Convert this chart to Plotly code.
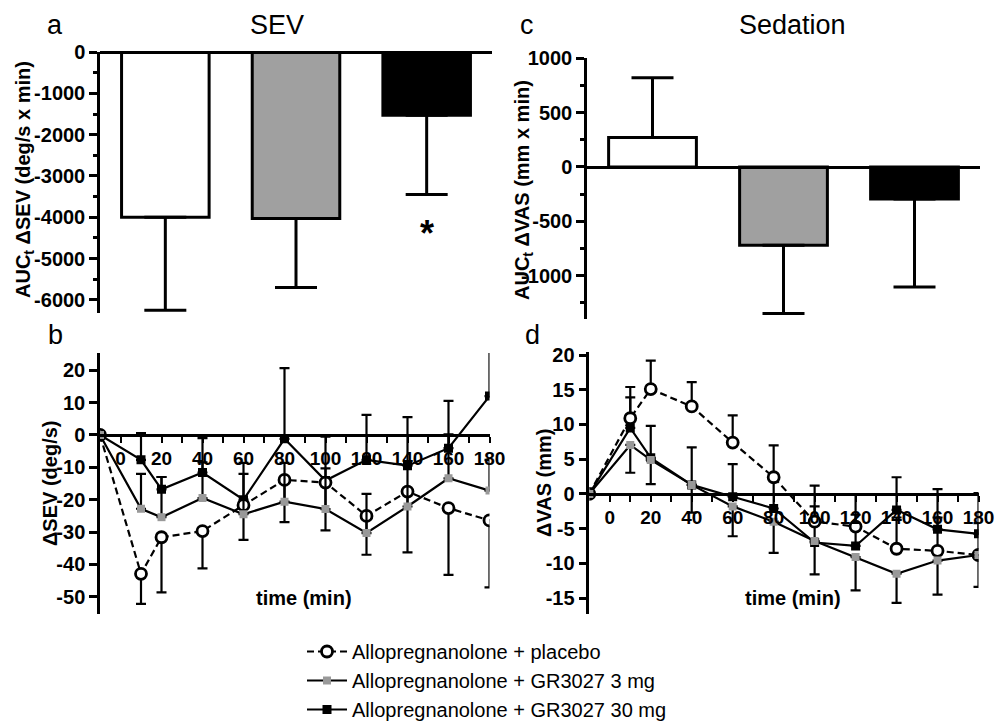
import plotly.graph_objects as go

W, H = 1007, 722
OFF = 8  # page body margin in the browser

# ---------------- data ----------------
groups = ["Allopregnanolone + placebo",
          "Allopregnanolone + GR3027 3 mg",
          "Allopregnanolone + GR3027 30 mg"]
bar_pos = [0, 1, 2]
bar_colors = ["white", "#a0a0a0", "black"]

sev_auc = [-4000, -4030, -1530]
sev_auc_err = [2250, 1670, 1920]
vas_auc = [270, -720, -295]
vas_auc_err = [550, 630, 810]

time = [-10, 10, 20, 40, 60, 80, 100, 120, 140, 160, 180]

sev_placebo = [0, -42.9, -31.6, -29.7, -21.7, -13.9, -14.7, -25.0, -17.5, -22.6, -26.4]
sev_placebo_err = [0, 9.3, 17.0, 11.5, 10.7, 13.0, 14.8, 12.0, 18.8, 20.6, 20.7]
sev_3mg = [0, -22.8, -25.4, -19.5, -24.5, -20.6, -22.9, -30.3, -22.1, -13.4, -17.2]
sev_3mg_err = [0, 10.8, 12.4, 11.0, 12.5, 12.0, 12.6, 12.1, 13.0, 13.6, 9.5]
sev_30mg = [0, -7.7, -16.8, -11.6, -20.0, -1.2, -14.1, -7.7, -9.5, -4.1, 12.0]
sev_30mg_err = [0, 8.3, 3.8, 10.6, 11.4, 21.8, 13.6, 13.9, 15.0, 14.6, 16.0]

vas_placebo = [0, 10.9, 15.1, 12.6, 7.4, 2.4, -4.0, -4.7, -7.9, -8.2, -8.8]
vas_placebo_err = [0, 4.5, 4.1, 3.5, 3.9, 4.6, 5.2, 4.6, 4.5, 4.8, 4.6]
vas_3mg = [0, 7.05, 4.9, 1.3, -1.8, -4.0, -6.8, -9.1, -11.5, -9.6, -8.8]
vas_3mg_err = [0, 4.0, 3.5, 4.0, 4.3, 4.5, 4.8, 4.8, 4.2, 4.9, 4.6]
vas_30mg = [0, 9.5, 5.2, 1.3, -0.4, -2.1, -7.0, -7.5, -2.3, -5.1, -5.75]
vas_30mg_err = [0, 4.4, 4.6, 5.4, 4.7, 4.5, 5.2, 4.5, 4.7, 5.8, 5.85]

x_ticks = [0, 20, 40, 60, 80, 100, 120, 140, 160, 180]
x_minor_ticks = [10, 30, 50, 70, 90, 110, 130, 150, 170]

sev_auc_ticks = [0, -1000, -2000, -3000, -4000, -5000, -6000]
vas_auc_ticks = [1000, 500, 0, -500, -1000]
sev_ticks = [20, 10, 0, -10, -20, -30, -40, -50]
vas_ticks = [20, 15, 10, 5, 0, -5, -10, -15]

# ---------------- helpers ----------------
def px(p):
    return (p - OFF) / W

def py(p):
    return 1 - (p - OFF) / H

def labels(vals):
    return [str(v) for v in vals]  # plain hyphen-minus like the original

FONT = "Liberation Sans, Arial, sans-serif"
YTICK = dict(family=FONT, size=20, color="black", weight=700)
XTICK = dict(family=FONT, size=19, color="black", weight=700)
LW = 2.5

def zero_pos(dom, rng):
    f = (0 - rng[0]) / (rng[1] - rng[0])
    return dom[0] + f * (dom[1] - dom[0])

# domains / ranges
xa_dom = [px(100), px(492)];     ya_dom = [py(313), py(52)];    ya_rng = [-6315, 0]
xc_dom = [px(587), px(980)];     yc_dom = [py(319), py(58.3)];  yc_rng = [-1400, 1000]
xb_dom = [px(100), px(489.5)];   yb_dom = [py(614), py(353)];   yb_rng = [-55.3, 25.3]
xd_dom = [px(589.3), px(978.5)]; yd_dom = [py(614), py(352.3)]; yd_rng = [-17.3, 20.4]

fig = go.Figure()

# ---------------- bar panels ----------------
def bar_trace(vals, errs, xa, ya):
    up = [e if v > 0 else 0 for v, e in zip(vals, errs)]
    dn = [e if v < 0 else 0 for v, e in zip(vals, errs)]
    return go.Bar(
        x=bar_pos, y=vals, width=0.67,
        marker=dict(color=bar_colors, line=dict(color="black", width=3)),
        error_y=dict(type="data", symmetric=False, array=up, arrayminus=dn,
                     color="black", thickness=3, width=21),
        xaxis=xa, yaxis=ya, showlegend=False, hoverinfo="skip",
    )

fig.add_trace(bar_trace(sev_auc, sev_auc_err, "x", "y"))
fig.add_trace(bar_trace(vas_auc, vas_auc_err, "x2", "y2"))

# ---------------- line panels ----------------
def line_traces(ys, errs, direction, style, xa, ya, show):
    name, dash, symbol, size, mfill, rank = style
    zeros = [0] * len(errs)
    if direction == "up":
        ey = dict(type="data", symmetric=False, array=errs, arrayminus=zeros,
                  color="black", thickness=2.2, width=5)
    else:
        ey = dict(type="data", symmetric=False, array=zeros, arrayminus=errs,
                  color="black", thickness=2.2, width=5)
    is_circle = symbol == "circle"
    return go.Scatter(
        x=time, y=ys, mode="lines+markers", name=name,
        line=dict(color="black", width=2.2, dash=dash),
        marker=dict(symbol=symbol, size=size, color=mfill,
                    line=dict(color="black" if is_circle else mfill,
                              width=2.8 if is_circle else 0)),
        error_y=ey, xaxis=xa, yaxis=ya, showlegend=show, legendrank=rank,
        legendgroup=name, hoverinfo="skip",
    )

st_plac = (groups[0], "7px,4px", "circle", 11, "white", 1)
st_3 = (groups[1], "solid", "square", 8, "#999999", 2)
st_30 = (groups[2], "solid", "square", 9, "black", 3)

# panel b
fig.add_trace(line_traces(sev_30mg, sev_30mg_err, "up", st_30, "x3", "y3", True))
fig.add_trace(line_traces(sev_placebo, sev_placebo_err, "down", st_plac, "x3", "y3", True))
fig.add_trace(line_traces(sev_3mg, sev_3mg_err, "up", st_3, "x3", "y3", True))
# panel d
fig.add_trace(line_traces(vas_30mg, vas_30mg_err, "up", st_30, "x4", "y4", False))
fig.add_trace(line_traces(vas_placebo, vas_placebo_err, "up", st_plac, "x4", "y4", False))
fig.add_trace(line_traces(vas_3mg, vas_3mg_err, "down", st_3, "x4", "y4", False))

# ---------------- axes ----------------
common_y = dict(showline=True, linecolor="black", linewidth=LW, ticks="outside",
                ticklen=8, tickwidth=LW, tickcolor="black", showgrid=False,
                zeroline=False, tickfont=YTICK, ticklabelstandoff=0, automargin=False)

def bar_x(dom, pos):
    return dict(domain=dom, range=[-0.5, 2.5], anchor="free", position=pos,
                showline=True, linecolor="black", linewidth=LW, showticklabels=False,
                tickvals=[], ticks="", showgrid=False, zeroline=False, automargin=False)

def time_x(dom, pos):
    return dict(domain=dom, range=[-10, 180], anchor="free", position=pos,
                showline=True, linecolor="black", linewidth=LW, tickvals=x_ticks,
                ticks="outside", ticklen=6, tickwidth=2, tickcolor="black",
                tickfont=XTICK, showgrid=False, zeroline=False, automargin=False,
                minor=dict(tickvals=x_minor_ticks, ticks="outside", ticklen=6,
                           tickwidth=2, tickcolor="black", showgrid=False))

def minor_y(dt):
    return dict(dtick=dt, ticks="outside", ticklen=4, tickwidth=LW,
                tickcolor="black", showgrid=False)

fig.update_layout(
    xaxis=bar_x(xa_dom, zero_pos(ya_dom, ya_rng)),
    yaxis=dict(domain=ya_dom, range=ya_rng, anchor="x", tickvals=sev_auc_ticks,
               ticktext=labels(sev_auc_ticks), minor=minor_y(500), **common_y),
    xaxis2=bar_x(xc_dom, zero_pos(yc_dom, yc_rng)),
    yaxis2=dict(domain=yc_dom, range=yc_rng, anchor="x2", tickvals=vas_auc_ticks,
                ticktext=labels(vas_auc_ticks), minor=minor_y(250), **common_y),
    xaxis3=time_x(xb_dom, zero_pos(yb_dom, yb_rng)),
    yaxis3=dict(domain=yb_dom, range=yb_rng, anchor="x3", tickvals=sev_ticks,
                ticktext=labels(sev_ticks), **common_y),
    xaxis4=time_x(xd_dom, zero_pos(yd_dom, yd_rng)),
    yaxis4=dict(domain=yd_dom, range=yd_rng, anchor="x4", tickvals=vas_ticks,
                ticktext=labels(vas_ticks), **common_y),
)

# ---------------- annotations ----------------
def ann(text, x, y, size, bold=False, angle=0, yanchor="middle"):
    fig.add_annotation(text=text, x=px(x), y=py(y), xref="paper", yref="paper",
                       showarrow=False, textangle=angle, xanchor="center", yanchor=yanchor,
                       font=dict(family=FONT, size=size, color="black",
                                 weight=700 if bold else 400))

# top titles anchored at the top of the figure area so their boxes stay inside
ann("a", 55, 8, 27, yanchor="top")
ann("SEV", 277, 8, 27, yanchor="top")
ann("c", 527, 8, 27, yanchor="top")
ann("Sedation", 792, 8, 27, yanchor="top")
ann("b", 55, 335, 27)
ann("d", 532, 335, 27)

ann("AUC<sub>t</sub> ΔSEV (deg/s x min)", 25, 180, 20, bold=True, angle=-90)
ann("AUC<sub>t</sub> ΔVAS (mm x min)", 523, 190, 20, bold=True, angle=-90)
ann("ΔSEV (deg/s)", 50, 483, 20, bold=True, angle=-90)
ann("ΔVAS (mm)", 544, 483, 20, bold=True, angle=-90)
ann("time (min)", 304, 598, 20, bold=True)
ann("time (min)", 793, 598, 20, bold=True)

fig.add_annotation(text="*", x=2, y=-4400, xref="x", yref="y", showarrow=False,
                   yanchor="middle",
                   font=dict(family=FONT, size=36, color="black", weight=700))

fig.update_layout(
    width=W, height=H, margin=dict(l=0, r=0, t=0, b=0, autoexpand=False),
    paper_bgcolor="white", plot_bgcolor="rgba(0,0,0,0)",
    showlegend=True,
    legend=dict(x=px(302), y=py(632), xanchor="left", yanchor="top",
                font=dict(family=FONT, size=20, color="black"),
                bgcolor="rgba(0,0,0,0)", traceorder="normal", itemwidth=40),
)

fig.write_html("out.html")
